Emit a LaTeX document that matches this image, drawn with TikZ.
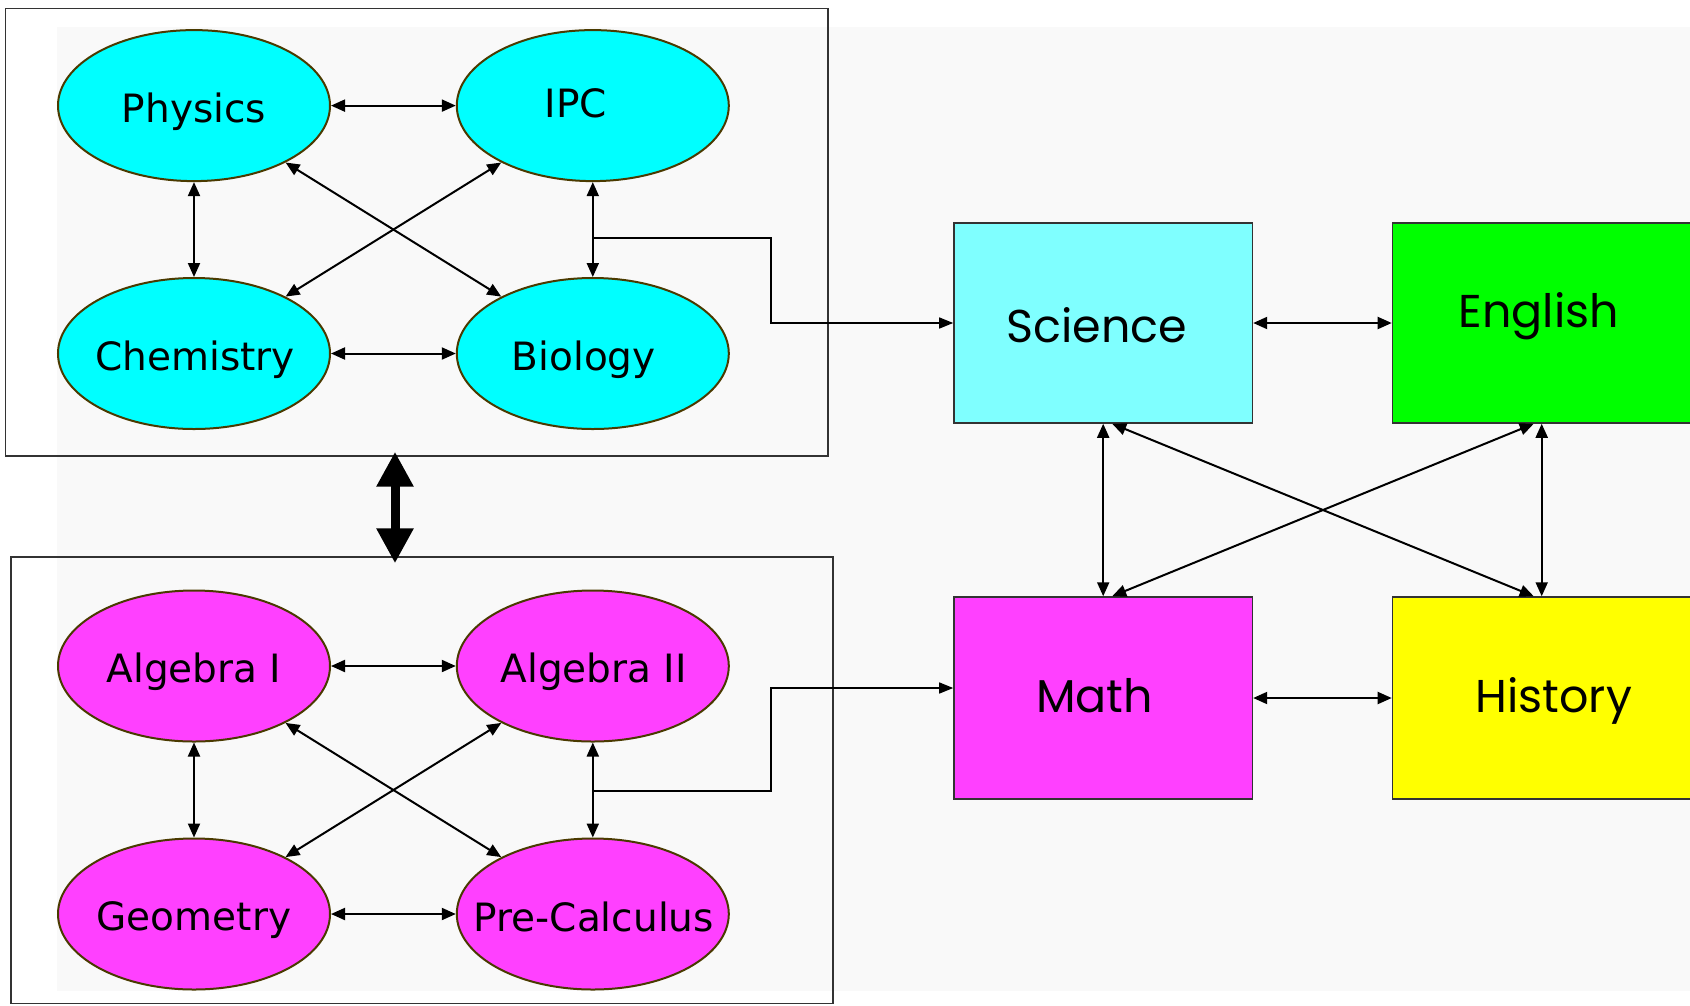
\documentclass[tikz,border=0pt]{standalone}
\usepackage{fontspec}
\setmainfont{DejaVu Sans}
\newfontfamily\boxfont{Poppins}
\usetikzlibrary{arrows.meta,shapes.geometric,calc}
\definecolor{bggray}{HTML}{F9F9F9}
\definecolor{ellline}{HTML}{4A3A00}
\definecolor{cyanfill}{HTML}{00FFFF}
\definecolor{magfill}{HTML}{FF40FF}
\definecolor{scifill}{HTML}{7FFFFF}
\definecolor{engfill}{HTML}{00FF00}
\definecolor{histfill}{HTML}{FFFF00}
\definecolor{frame}{HTML}{333333}
\tikzset{
  ell/.style={ellipse, draw=ellline, line width=2pt, minimum width=272pt, minimum height=151pt, inner sep=0pt},
  elab/.style={inner sep=0pt, font=\fontsize{39}{39}\selectfont},
  sbox/.style={rectangle, draw=frame, line width=1.5pt, minimum width=298.5pt, minimum height=200pt, inner sep=0pt},
  blab/.style={inner sep=0pt, font=\boxfont\fontsize{46}{46}\selectfont},
  group/.style={rectangle, draw=frame, line width=1.5pt, minimum width=822.3pt, inner sep=0pt},
  link/.style={{Triangle[length=14pt,width=12pt]}-{Triangle[length=14pt,width=12pt]}, line width=2pt},
  feed/.style={-{Triangle[length=14pt,width=11pt]}, line width=1.5pt},
  big/.style={{Triangle[length=35pt,width=35pt]}-{Triangle[length=35pt,width=35pt]}, line width=9pt}
}
\begin{document}
\begin{tikzpicture}[x=1pt,y=-1pt]
\useasboundingbox (0,0) rectangle (1690,1005);
\fill[bggray] (57,27) rectangle (1690,991);

% group frames
\node[group, minimum height=447.3pt] (topbox) at (416.6,232.3) {};
\node[group, minimum height=446.5pt] (botbox) at (422,780.3) {};

% science ellipses
\node[ell, fill=cyanfill] (phys) at (194,105.6) {};
\node[ell, fill=cyanfill] (ipc) at (592.8,105.6) {};
\node[ell, fill=cyanfill] (chem) at (194,353.5) {};
\node[ell, fill=cyanfill] (bio) at (592.8,353.5) {};
\node[elab] (physT) at ($(phys)+(0,6)$) {Physics};
\node[elab] (ipcT) at ($(ipc)+(-17,-2)$) {IPC};
\node[elab] (chemT) at ($(chem)+(1,6)$) {Chemistry};
\node[elab] (bioT) at ($(bio)+(-9,6)$) {Biology};

% math ellipses
\node[ell, fill=magfill] (alg1) at (194,666) {};
\node[ell, fill=magfill] (alg2) at (592.8,666) {};
\node[ell, fill=magfill] (geo) at (194,914) {};
\node[ell, fill=magfill] (pre) at (592.8,914) {};
\node[elab] (alg1T) at ($(alg1)+(0,6)$) {Algebra I};
\node[elab] (alg2T) at ($(alg2)+(1,6)$) {Algebra II};
\node[elab] (geoT) at ($(geo)+(0,6)$) {Geometry};
\node[elab] (preT) at ($(pre)+(1,3)$) {Pre-Calculus};

% subject boxes
\node[sbox, fill=scifill] (sci) at (1103.2,323) {};
\node[sbox, fill=engfill] (eng) at (1541.7,323) {};
\node[sbox, fill=magfill, minimum height=202pt] (math) at (1103.2,698) {};
\node[sbox, fill=histfill, minimum height=202pt] (hist) at (1541.7,698) {};
\node[blab] (sciT) at ($(sci)+(-6.5,2)$) {Science};
\node[blab] (engT) at ($(eng)+(-3,-6.5)$) {English};
\node[blab] (mathT) at ($(math)+(-8.5,-2)$) {Math};
\node[blab] (histT) at ($(hist)+(12,3)$) {History};

% science links
\draw[link] (phys) -- (ipc);
\draw[link] (chem) -- (bio);
\draw[link] (phys) -- (chem);
\draw[link] (ipc) -- (bio);
\draw[link] (phys) -- (bio);
\draw[link] (ipc) -- (chem);

% math links
\draw[link] (alg1) -- (alg2);
\draw[link] (geo) -- (pre);
\draw[link] (alg1) -- (geo);
\draw[link] (alg2) -- (pre);
\draw[link] (alg1) -- (pre);
\draw[link] (alg2) -- (geo);

% group link
\draw[big] ([xshift=-21.6pt,yshift=5pt]topbox.south) -- ([xshift=-27pt,yshift=-7pt]botbox.north);

% feeds
\coordinate (j1) at (592.8,238);
\coordinate (j2) at (592.8,791);
\draw[feed] (j1) -- ++(178,0) |- (sci.west);
\draw[feed] (j2) -- ++(178,0) |- ([yshift=10pt]math.west);

% subject links
\draw[link] (sci) -- (eng);
\draw[link] (math) -- (hist);
\draw[link] (sci.south) -- (math.north);
\draw[link] (eng.south) -- (hist.north);
\draw[link] ([xshift=9pt]sci.south) -- ([xshift=-8pt]hist.north);
\draw[link] ([xshift=-8pt]eng.south) -- ([xshift=9pt]math.north);
\end{tikzpicture}
\end{document}
